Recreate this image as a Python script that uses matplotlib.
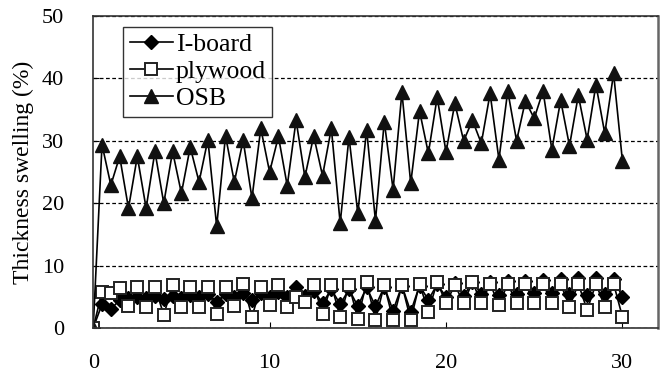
"""Thickness swelling vs time for I-board, plywood and OSB"""
import numpy as np
import matplotlib
matplotlib.use("Agg")
import matplotlib.pyplot as plt

plt.rcParams['font.family'] = ['Liberation Serif', 'DejaVu Serif']

# time (days), readings every half day
days = np.arange(0, 30.5, 0.5)

iboard = [0, 3.8, 3.0, 4.5, 4.8, 5.0, 4.8, 5.2, 4.6, 5.2,
          4.8, 5.3, 4.9, 5.5, 4.2, 5.5, 4.9, 5.6, 4.5, 5.6,
          5.0, 5.8, 5.0, 6.5, 5.2, 6.0, 4.0, 6.2, 3.8, 6.2,
          3.5, 6.5, 3.5, 6.6, 2.8, 6.8, 2.6, 6.8, 4.5, 7.0,
          5.0, 7.2, 5.2, 7.3, 5.5, 7.4, 5.3, 7.5, 5.5, 7.6,
          5.6, 7.7, 5.6, 7.8, 5.4, 8.0, 5.3, 8.0, 5.4, 7.9,
          5.0]

plywood = [0, 5.8, 5.6, 6.4, 3.5, 6.6, 3.3, 6.6, 2.1, 6.9,
           3.4, 6.6, 3.4, 6.6, 2.3, 6.6, 3.5, 7.1, 1.8, 6.6,
           3.7, 6.9, 3.4, 5.0, 4.2, 6.9, 2.3, 6.9, 1.8, 6.9,
           1.5, 7.3, 1.3, 6.9, 1.3, 6.9, 1.3, 7.1, 2.6, 7.4,
           4.0, 6.9, 4.0, 7.4, 4.0, 7.1, 3.7, 7.1, 4.0, 7.1,
           4.0, 7.1, 4.0, 7.1, 3.4, 7.1, 2.9, 7.1, 3.4, 7.1,
           1.8]

osb = [0, 29.4, 22.9, 27.5, 19.2, 27.5, 19.2, 28.3, 20.0, 28.3,
       21.6, 29.0, 23.4, 30.2, 16.3, 30.8, 23.4, 30.1, 20.8, 32.0,
       25.0, 30.7, 22.8, 33.3, 24.2, 30.8, 24.4, 32.0, 16.8, 30.6,
       18.4, 31.8, 17.2, 33.1, 22.2, 37.8, 23.2, 34.8, 28.0, 37.0,
       28.2, 36.0, 30.0, 33.3, 29.6, 37.6, 27.0, 38.0, 30.0, 36.4,
       33.6, 38.0, 28.6, 36.5, 29.2, 37.3, 30.2, 39.0, 31.2, 40.8,
       26.8]

fig = plt.figure(figsize=(6.61, 3.74), dpi=100)
ax = fig.add_axes([0.141, 0.123, 0.854, 0.834])

ax.plot(days, iboard, color='black', lw=1.2, marker='D', ms=7,
        mfc='black', mec='black', label='I-board')
ax.plot(days, plywood, color='black', lw=1.2, marker='s', ms=9,
        mfc='white', mec='#222222', mew=1.4, label='plywood')
ax.plot(days, osb, color='black', lw=1.2, marker='^', ms=10,
        mfc='#111111', mec='#111111', label='OSB')

ax.set_xlim(0, 32)
ax.set_ylim(0, 50)
ax.set_xticks([0, 10, 20, 30])
ax.set_yticks([0, 10, 20, 30, 40, 50])
ax.tick_params(direction='in', labelsize=16, length=4)
ax.tick_params(axis='x', pad=19)
ax.tick_params(axis='y', pad=21)
ax.yaxis.grid(True, linestyle=(0, (3, 2)), color='black', lw=0.9)
ax.set_axisbelow(True)
ax.set_ylabel('Thickness swelling (%)', fontsize=17)
ax.yaxis.set_label_coords(-0.104, 0.5)

for side in ax.spines.values():
    side.set_color('#333333')
    side.set_linewidth(1.2)
ax.spines['right'].set_color('#666666')
ax.spines['right'].set_linewidth(1.8)

leg = ax.legend(loc='upper left', bbox_to_anchor=(0.053, 0.965),
                fontsize=18.5, frameon=True, fancybox=False,
                borderpad=0.25, labelspacing=0.15, handlelength=1.7,
                handletextpad=0.1, borderaxespad=0)
leg.get_frame().set_edgecolor('black')
leg.get_frame().set_linewidth(1.0)

fig.savefig('out.png', dpi=100)
